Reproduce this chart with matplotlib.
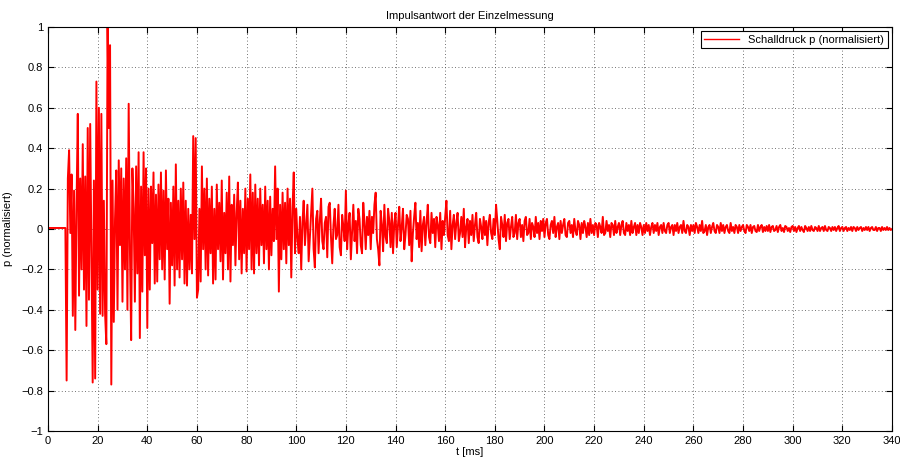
import numpy as np
import matplotlib
matplotlib.use("Agg")
import matplotlib.pyplot as plt
from matplotlib.ticker import FuncFormatter

# ---- data ----
# early part: 0 ... 99.5 ms, sampled every 0.5 ms
p_early = [0.005] * 15 + [
    -0.75, 0.25, 0.39, -0.02, 0.27,
    -0.43, 0.19, -0.5, 0.12, 0.57, -0.33, 0.25, -0.2, 0.42, -0.3,
    0.26, -0.48, 0.5, -0.35, 0.52, -0.1, -0.76, 0.24, -0.74, 0.73,
    -0.3, 0.6, -0.42, 0.57, -0.43, 0.14, -0.42, -0.57, 1.0, 0.5,
    0.91, -0.77, 0.24, -0.46, 0.05, 0.29, -0.4, 0.34, -0.08, 0.3,
    -0.36, 0.25, -0.2, 0.35, -0.4, 0.62, -0.1, -0.55, 0.3, 0.1,
    -0.36, 0.31, -0.22, 0.38, -0.54, 0.21, -0.31, 0.38, -0.13, 0.3,
    -0.49, 0.2, -0.3, 0.21, -0.07, 0.28, -0.27, 0.17, -0.26, 0.22,
    -0.15, 0.28, -0.2, 0.19, -0.25, 0.29, -0.1, 0.15, -0.37, 0.13,
    -0.18, 0.21, -0.28, 0.32, -0.2, 0.14, -0.24, 0.2, -0.15, 0.23,
    -0.27, 0.14, -0.28, 0.1, -0.2, 0.07, -0.22, 0.46, -0.05, 0.45,
    -0.34, -0.3, 0.1, -0.26, 0.31, -0.1, 0.2, -0.2, 0.25, -0.23,
    0.15, -0.12, 0.21, -0.27, 0.1, -0.25, 0.22, -0.1, 0.13, -0.16,
    0.24, -0.25, 0.08, -0.12, 0.18, -0.2, 0.26, -0.26, 0.12, -0.08,
    0.17, -0.18, 0.08, 0.23, -0.15, 0.14, -0.22, 0.1, -0.12, 0.2,
    -0.21, 0.15, -0.1, 0.27, -0.2, 0.18, -0.22, 0.22, -0.12, 0.15,
    -0.18, 0.2, -0.08, 0.12, -0.17, 0.21, -0.1, 0.14, -0.2, 0.16,
    -0.13, 0.1, -0.06, 0.31, -0.05, 0.2, -0.31, 0.12, -0.15, 0.18,
    -0.1, 0.13, -0.17, 0.2, -0.08, 0.15, -0.24, 0.1, 0.28, -0.12,
]
# late part: 100 ... 340 ms, sampled every 0.5 ms
p_late = [
    0.1, -0.05, -0.12, 0.06, -0.2, 0.03, 0.14, -0.08, 0.02, 0.12, -0.16, -0.04, 0.08, 0.2, -0.1, -0.19, 0.05, 0.09, -0.12, 0.04,
    0.15, -0.06, -0.1, 0.03, 0.06, -0.14, 0.11, 0.13, -0.04, -0.17, 0.02, 0.1, -0.05, -0.03, 0.12, -0.09, -0.13, 0.07, 0.01, -0.06,
    0.19, -0.1, 0.02, 0.08, -0.15, -0.02, 0.12, -0.06, 0.04, -0.12, 0.1, 0.05, -0.08, -0.12, 0.13, 0.03, -0.1, 0.06, -0.03, 0.09,
    -0.1, 0.06, -0.02, 0.12, 0.18, -0.05, -0.1, -0.18, 0.09, 0.02, -0.11, 0.12, -0.04, -0.07, 0.1, 0.04, -0.09, 0.08, -0.12, 0.03,
    0.08, -0.09, 0.02, 0.11, -0.06, 0.01, 0.1, -0.1, -0.03, 0.07, 0.05, -0.08, 0.09, -0.16, -0.02, 0.06, 0.13, -0.05, 0.03, -0.09,
    0.09, -0.11, 0.02, 0.06, -0.08, 0.03, 0.12, -0.04, -0.07, 0.08, -0.02, 0.05, -0.09, 0.06, 0.02, -0.06, 0.08, -0.1, 0.04, -0.03,
    0.06, 0.14, -0.03, -0.06, 0.09, -0.1, 0.02, 0.07, -0.05, 0.03, 0.08, -0.06, -0.02, 0.06, -0.04, 0.1, -0.09, 0.01, 0.05, -0.07,
    0.04, -0.03, 0.07, -0.06, 0.02, 0.08, -0.04, -0.07, 0.05, 0.01, -0.05, 0.06, -0.03, 0.04, -0.08, 0.03, 0.07, -0.02, -0.05, 0.05,
    -0.03, 0.12, 0.04, -0.05, -0.1, 0.06, 0.02, -0.04, 0.07, -0.06, 0.03, 0.05, -0.05, 0.01, 0.06, -0.04, -0.02, 0.07, -0.05, 0.03,
    0.05, -0.04, 0.02, -0.06, 0.04, 0.06, -0.03, -0.02, 0.05, -0.05, 0.03, 0.01, -0.04, 0.06, -0.02, 0.03, -0.05, 0.04, -0.01, 0.05,
    -0.04, 0.03, 0.05, -0.03, -0.05, 0.02, 0.04, -0.02, 0.06, -0.04, 0.01, 0.03, -0.05, 0.04, -0.02, 0.02, 0.05, -0.03, -0.04, 0.03,
    0.04, -0.02, 0.02, -0.04, 0.05, -0.01, -0.03, 0.04, 0.02, -0.05, 0.03, -0.02, 0.04, 0.01, -0.04, 0.03, -0.03, 0.05, -0.02, 0.02,
    -0.03, 0.03, 0.02, -0.04, 0.03, 0.01, -0.02, 0.06, -0.03, -0.02, 0.04, -0.01, 0.02, -0.04, 0.03, 0.02, -0.03, 0.04, -0.02, 0.01,
    0.03, -0.03, 0.02, 0.04, -0.02, -0.03, 0.03, -0.01, 0.02, -0.03, 0.04, -0.02, 0.01, 0.03, -0.03, 0.02, -0.02, 0.03, 0.01, -0.03,
    0.02, -0.02, 0.03, -0.01, 0.02, -0.03, 0.01, 0.03, -0.02, 0.02, -0.01, 0.03, -0.03, 0.01, 0.02, -0.02, 0.03, -0.01, -0.02, 0.02,
    0.03, -0.02, 0.01, 0.02, -0.03, 0.02, -0.01, 0.03, -0.02, 0.01, 0.02, -0.02, 0.04, -0.01, -0.02, 0.02, 0.01, -0.03, 0.02, -0.01,
    0.02, -0.02, 0.03, 0.01, -0.02, 0.02, -0.01, 0.04, -0.02, -0.01, 0.02, -0.03, 0.01, 0.02, -0.02, 0.01, 0.03, -0.01, -0.02, 0.02,
    0.01, -0.02, 0.03, -0.01, 0.02, -0.02, 0.01, 0.02, -0.01, -0.02, 0.03, -0.01, 0.01, -0.02, 0.02, 0.01, -0.02, 0.02, -0.01, 0.01,
    0.02, -0.01, -0.02, 0.02, 0.01, -0.01, 0.02, -0.02, 0.01, 0.015, -0.01, -0.015, 0.02, -0.01, 0.01, 0.02, -0.015, 0.01, -0.01, 0.015,
    -0.01, 0.02, -0.015, 0.01, 0.015, -0.01, -0.005, 0.015, -0.015, 0.01, 0.02, -0.01, 0.005, -0.015, 0.015, 0.01, -0.01, 0.005, -0.015, 0.01,
    0.015, -0.01, 0.01, -0.015, 0.005, 0.015, -0.01, 0.01, -0.005, -0.015, 0.015, 0.005, -0.01, 0.01, -0.01, 0.015, -0.005, -0.01, 0.01, 0.005,
    -0.01, 0.015, -0.01, 0.005, 0.01, -0.01, 0.015, -0.005, -0.01, 0.01, 0.005, -0.01, 0.01, -0.005, 0.01, -0.01, 0.005, 0.015, -0.01, 0.005,
    0.01, -0.01, 0.005, 0.01, -0.01, 0.005, -0.005, 0.01, -0.01, 0.01, 0.005, -0.01, 0.01, -0.005, 0.005, 0.01, -0.01, 0.005, -0.005, 0.01,
    -0.005, 0.01, -0.01, 0.005, 0.01, -0.005, -0.005, 0.01, -0.01, 0.005, 0.005, -0.01, 0.01, -0.005, 0.005, -0.005, 0.01, -0.005, 0.005, -0.005,
    0.0,
]
t_early = np.arange(len(p_early)) * 0.5
t_late = 100 + np.arange(len(p_late)) * 0.5
t = np.concatenate([t_early, t_late])
p = np.concatenate([p_early, p_late])

x_ticks = list(range(0, 341, 20))
y_ticks = [-1, -0.8, -0.6, -0.4, -0.2, 0, 0.2, 0.4, 0.6, 0.8, 1]

plt.rcParams['font.family'] = ['Liberation Sans', 'DejaVu Sans']
fig = plt.figure(figsize=(9, 4.61), dpi=100)
ax = fig.add_axes([48/900, 1-431/461, 844/900, 404/461])

ax.plot(t, p, color='#ff0000', lw=1.4, label='Schalldruck p (normalisiert)')
ax.set_xlim(0, 340)
ax.set_ylim(-1, 1)
ax.set_xticks(x_ticks)
ax.set_yticks(y_ticks)
ax.yaxis.set_major_formatter(FuncFormatter(lambda v, _: ('%g' % v).replace('-', '\u2212')))
ax.tick_params(direction='in', length=4, width=0.8, labelsize=8, top=True, right=True,
               colors='black')
ax.grid(True, linestyle=(0, (1, 3)), color='#444444', lw=0.6)
for s in ax.spines.values():
    s.set_linewidth(0.8)
    s.set_color('black')

ax.set_title('Impulsantwort der Einzelmessung', fontsize=8, pad=6)
ax.set_xlabel('t [ms]', fontsize=8, labelpad=1)
ax.set_ylabel('p (normalisiert)', fontsize=8, labelpad=6)

leg = ax.legend(loc='upper right', fontsize=8, fancybox=False, framealpha=1,
                edgecolor='black', borderaxespad=0.4, handlelength=3.2,
                borderpad=0.3)
leg.get_frame().set_linewidth(0.8)
leg.get_lines()[0].set_linewidth(1.0)

fig.savefig('out.png', dpi=100)
